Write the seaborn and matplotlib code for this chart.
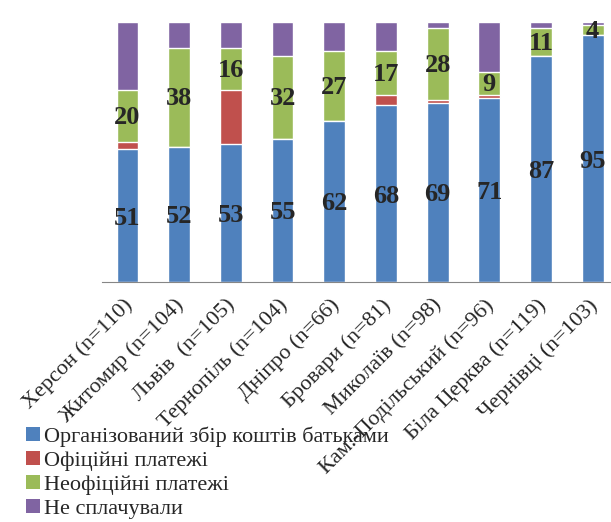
import numpy as np
import pandas as pd
import seaborn as sns
import matplotlib.pyplot as plt
from matplotlib.patches import Patch
from matplotlib.ticker import FixedLocator
from matplotlib.transforms import ScaledTranslation


# дані з діаграми (відсотки)
cities = ['Херсон (n=110)', 'Житомир (n=104)', 'Львів  (n=105)', 'Тернопіль (n=104)',
          'Дніпро (n=66)', 'Бровари (n=81)', 'Миколаїв (n=98)',
          'Кам.-Подільський (n=96)', 'Біла Церква (n=119)', 'Чернівці (n=103)']
organized = [51, 52, 53, 55, 62, 68, 69, 71, 87, 95]
official = [3, 0, 21, 0, 0, 4, 1, 1, 0, 0]
unofficial = [20, 38, 16, 32, 27, 17, 28, 9, 11, 4]
not_paid = [26, 10, 10, 13, 11, 11, 2, 19, 2, 1]

series_names = ['Організований збір коштів батьками', 'Офіційні платежі',
                'Неофіційні платежі', 'Не сплачували']
colors = ['#4F81BD', '#C0504D', '#9BBB59', '#8064A2']

df = pd.DataFrame({'city': cities, 'organized': organized, 'official': official,
                   'unofficial': unofficial, 'not_paid': not_paid})
df['c1'] = df['organized']
df['c2'] = df['c1'] + df['official']
df['c3'] = df['c2'] + df['unofficial']
df['c4'] = df['c3'] + df['not_paid']

sns.set_style('white')
serif = ['Liberation Serif', 'DejaVu Serif']

fig = plt.figure(figsize=(6.11, 5.22), dpi=100)
ax = fig.add_axes([0.1664, 0.4603, 0.846, 0.4969])

# малюємо від верхнього шару до нижнього (накопичені суми)
for col, c in zip(['c4', 'c3', 'c2', 'c1'], colors[::-1]):
    sns.barplot(data=df, x='city', y=col, color=c, width=0.42, saturation=1,
                ax=ax, order=cities)

# підписи значень
for i in range(len(cities)):
    ax.text(i, organized[i] / 2 - 1, str(organized[i]), ha='center', va='center',
            fontsize=19, fontweight='bold', family=serif)
    mid = df['c2'][i] + unofficial[i] / 2 - 0.5
    ax.text(i, mid, str(unofficial[i]), ha='center', va='center',
            fontsize=19, fontweight='bold', family=serif)

ax.set_xlim(-0.5, 9.5)
ax.set_ylim(0, 100)
ax.set_xlabel('')
ax.set_ylabel('')
ax.set_yticks([])
for s in ['left', 'top', 'right']:
    ax.spines[s].set_visible(False)
ax.spines['bottom'].set_color('#868686')

ax.set_xticks(range(len(cities)))
ax.set_xticklabels(cities, rotation=45, ha='right', rotation_mode='anchor',
                   fontsize=16, family=serif)
ax.tick_params(axis='x', which='major', length=0, pad=10)
ax.xaxis.set_minor_locator(FixedLocator(np.arange(-0.5, 10, 1)))
ax.tick_params(axis='x', which='minor', length=6, color='#868686', direction='out')

# трохи зсунути підписи вліво
shift = ScaledTranslation(-5 / 100, 0, fig.dpi_scale_trans)
for lbl in ax.get_xticklabels():
    lbl.set_transform(lbl.get_transform() + shift)

handles = [Patch(facecolor=c, edgecolor='none') for c in colors]
fig.legend(handles, series_names, loc='upper left', bbox_to_anchor=(0.043, 0.183),
           frameon=False, prop={'family': serif, 'size': 16},
           handlelength=0.6, handleheight=0.6, handletextpad=0.2,
           labelspacing=0.18, borderpad=0, borderaxespad=0)

fig.savefig('out.png', dpi=100)
